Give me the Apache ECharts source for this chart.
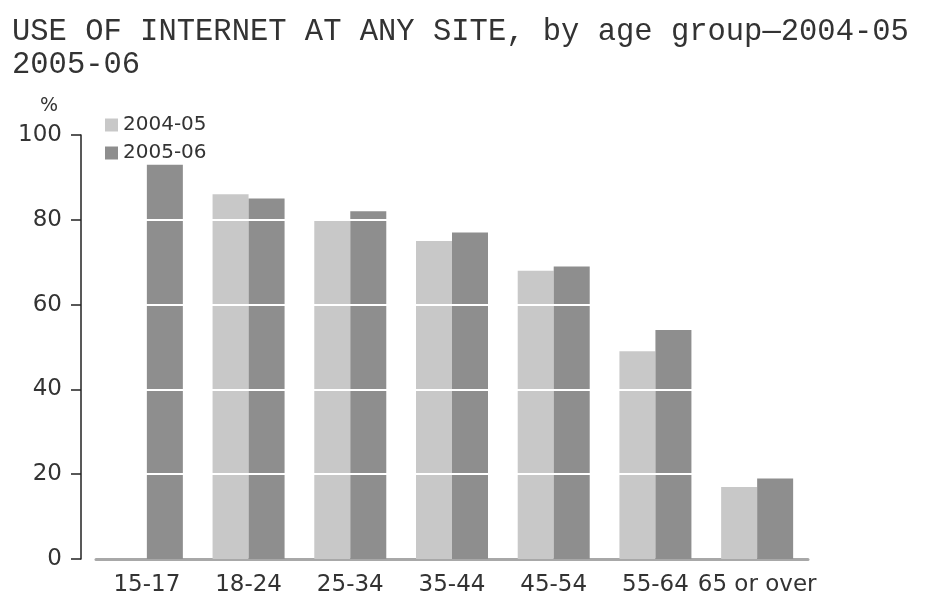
<!DOCTYPE html>
<html>
<head>
<meta charset="utf-8">
<script src="https://cdn.jsdelivr.net/npm/echarts@6/dist/echarts.min.js"></script>
<style>
  html, body { margin: 0; padding: 0; background: #fff; }
  #chart { width: 925px; height: 597px; }
</style>
</head>
<body>
<div id="chart"></div>
<script>
// data
var categories = ['15-17', '18-24', '25-34', '35-44', '45-54', '55-64', '65 or over']
var seriesNames = ['2004-05', '2005-06']
var values0405 = ['-', 86, 80, 75, 68, 49, 17]
var values0506 = [93, 85, 82, 77, 69, 54, 19]
var titleLines = ['USE OF INTERNET AT ANY SITE, by age group\u20142004-05', '2005-06']

var chart = echarts.init(document.getElementById('chart'))

var option = {
    animation: false,
    color: ['#c8c8c8', '#8e8e8e'],
    graphic: [
        {
            type: 'text',
            left: 12,
            top: 15,
            style: {
                text: titleLines.join('\n'),
                font: '30.5px "Liberation Mono"',
                lineHeight: 33,
                fill: '#333'
            }
        },
        {
            type: 'text',
            left: 40,
            top: 97,
            style: {
                text: '%',
                font: '19px "DejaVu Sans"',
                fill: '#333'
            }
        }
    ],
    legend: {
        data: seriesNames,
        orient: 'vertical',
        left: 100,
        top: 110,
        icon: 'rect',
        itemWidth: 13,
        itemHeight: 13,
        itemGap: 8,
        textStyle: { fontFamily: 'DejaVu Sans', fontSize: 20, color: '#333' }
    },
    grid: { left: 96, right: 117, top: 135, bottom: 37 },
    xAxis: {
        type: 'category',
        data: categories,
        axisLine: { lineStyle: { color: '#a8a8a8', width: 3 } },
        axisTick: { alignWithLabel: true, length: 8, lineStyle: { color: '#444', width: 1.5 } },
        axisLabel: { interval: 0, margin: 15, fontFamily: 'DejaVu Sans', fontSize: 23, color: '#333' }
    },
    yAxis: {
        type: 'value',
        min: 0,
        max: 100,
        interval: 20,
        offset: 15,
        z: 5,
        axisLine: { show: true, lineStyle: { color: '#222', width: 1.5 } },
        axisTick: { show: true, length: 10, lineStyle: { color: '#222', width: 1.5 } },
        axisLabel: { margin: 19, fontFamily: 'DejaVu Sans', fontSize: 23, color: '#333' },
        splitLine: { show: true, showMinLine: false, lineStyle: { color: '#ffffff', width: 2 } }
    },
    series: [
        { name: seriesNames[0], type: 'bar', data: values0405, barWidth: 36, barGap: '0%' },
        { name: seriesNames[1], type: 'bar', data: values0506, barWidth: 36, barGap: '0%' }
    ]
}

chart.setOption(option)
</script>
</body>
</html>
